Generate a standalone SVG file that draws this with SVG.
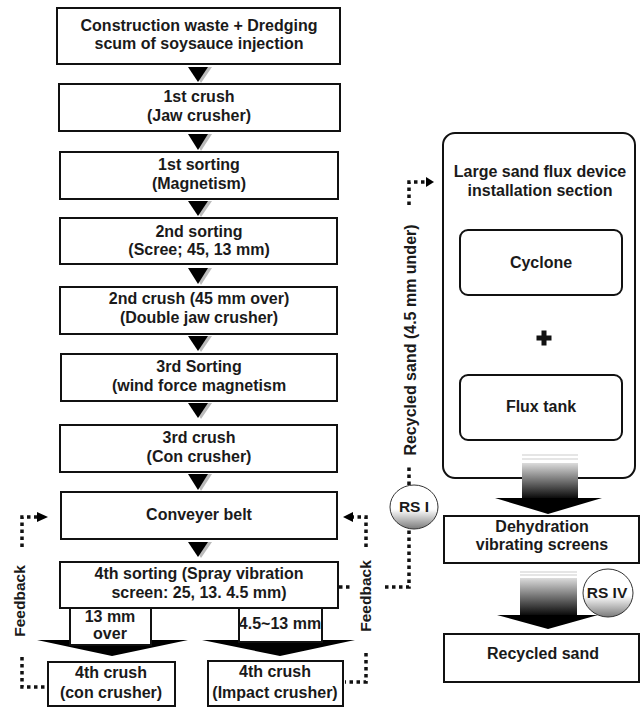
<svg xmlns="http://www.w3.org/2000/svg" width="640" height="708" viewBox="0 0 640 708">
<style>
.box{fill:#fff;stroke:#111;stroke-width:2}
.rbox{fill:#fff;stroke:#111;stroke-width:2}
.t{font-family:"Liberation Sans",Arial,sans-serif;font-weight:bold;font-size:16px;fill:#1a1a1a;text-anchor:middle}
.rs{font-family:"Liberation Sans",Arial,sans-serif;font-weight:bold;font-size:15.5px;fill:#1a1a1a;text-anchor:middle}
.dot{fill:none;stroke:#111;stroke-width:3.5;stroke-dasharray:3.5 3.5}
.tri{fill:#000}
.sh{fill:#bbb}
.faint{stroke:#ccc;stroke-width:1.2}
</style>
<defs>
<linearGradient id="grad" x1="0" y1="0" x2="0" y2="1">
<stop offset="0" stop-color="#dcdcdc"/>
<stop offset="0.3" stop-color="#9a9a9a"/>
<stop offset="1" stop-color="#000"/>
</linearGradient>
<linearGradient id="gloss" x1="0" y1="0" x2="0" y2="1">
<stop offset="0" stop-color="#fff"/>
<stop offset="0.55" stop-color="#fff"/>
<stop offset="1" stop-color="#7a7a7a"/>
</linearGradient>
</defs>

<g id="n1"><rect class="box" x="57" y="8" width="283" height="56"/>
<text class="t" x="199" y="31">Construction waste + Dredging</text>
<text class="t" x="199" y="49">scum of soysauce injection</text></g>
<g id="n2"><rect class="box" x="59" y="84" width="281" height="47"/>
<text class="t" x="199" y="102">1st crush</text>
<text class="t" x="199" y="121">(Jaw crusher)</text></g>
<g id="n3"><rect class="box" x="60" y="152" width="278" height="47"/>
<text class="t" x="199" y="170">1st sorting</text>
<text class="t" x="199" y="189">(Magnetism)</text></g>
<g id="n4"><rect class="box" x="60" y="218" width="277" height="46"/>
<text class="t" x="199" y="237">2nd sorting</text>
<text class="t" x="199" y="255">(Scree; 45, 13 mm)</text></g>
<g id="n5"><rect class="box" x="60" y="287" width="277" height="47"/>
<text class="t" x="199" y="304">2nd crush (45 mm over)</text>
<text class="t" x="199" y="323">(Double jaw crusher)</text></g>
<g id="n6"><rect class="box" x="61" y="354" width="276" height="47"/>
<text class="t" x="199" y="372">3rd Sorting</text>
<text class="t" x="199" y="391">(wind force magnetism</text></g>
<g id="n7"><rect class="box" x="60" y="425" width="277" height="47"/>
<text class="t" x="199" y="443">3rd crush</text>
<text class="t" x="199" y="462">(Con crusher)</text></g>
<g id="n8"><rect class="box" x="61" y="492" width="276" height="47"/>
<text class="t" x="199" y="520">Conveyer belt</text></g>
<g id="n9"><rect class="box" x="60" y="562" width="278" height="46"/>
<text class="t" x="199" y="579">4th sorting (Spray vibration</text>
<text class="t" x="199" y="598">screen: 25, 13. 4.5 mm)</text></g>
<g id="n10"><rect class="box" x="48" y="662" width="127" height="44"/>
<text class="t" x="111" y="678">4th crush</text>
<text class="t" x="111" y="698">(con crusher)</text></g>
<g id="n11"><rect class="box" x="208" y="661" width="135" height="45"/>
<text class="t" x="275" y="677">4th crush</text>
<text class="t" x="275" y="698">(Impact crusher)</text></g>

<g id="n12"><rect class="rbox" x="443" y="133" width="192" height="345" rx="12"/>
<text class="t" x="540" y="177">Large sand flux device</text>
<text class="t" x="540" y="196">installation section</text></g>
<g id="n13"><rect class="rbox" x="460" y="230" width="162" height="65" rx="8"/>
<text class="t" x="541" y="268">Cyclone</text></g>
<g id="plus"><rect x="536.5" y="335.5" width="15" height="5" fill="#111"/><rect x="541.5" y="330.5" width="5" height="15" fill="#111"/></g>
<g id="n14"><rect class="rbox" x="460" y="375" width="162" height="65" rx="8"/>
<text class="t" x="541" y="412">Flux tank</text></g>
<g id="n15"><rect class="box" x="444" y="516" width="195" height="47"/>
<text class="t" x="542" y="532">Dehydration</text>
<text class="t" x="542" y="550">vibrating screens</text></g>
<g id="n16"><rect class="box" x="444" y="634" width="195" height="48"/>
<text class="t" x="543" y="659">Recycled sand</text></g>

<g id="connectors">
<g>
<polygon class="sh" points="191,67 212,67 201,83"/><polygon class="tri" points="188,67 208,67 198,82"/>
<polygon class="sh" points="191,134 212,134 201,151"/><polygon class="tri" points="188,134 208,134 198,150"/>
<polygon class="sh" points="191,201 212,201 201,217"/><polygon class="tri" points="188,201 208,201 198,216"/>
<polygon class="sh" points="191,268 212,268 201,285"/><polygon class="tri" points="188,268 208,268 198,284"/>
<polygon class="sh" points="191,336 212,336 201,352"/><polygon class="tri" points="188,336 208,336 198,351"/>
<polygon class="sh" points="191,403 212,403 201,419"/><polygon class="tri" points="188,403 208,403 198,418"/>
<polygon class="sh" points="191,474 212,474 201,491"/><polygon class="tri" points="188,474 208,474 198,490"/>
<polygon class="sh" points="191,542 212,542 201,558"/><polygon class="tri" points="188,542 208,542 198,557"/>
</g>
<polygon class="tri" points="37,640 188,640 112,656"/>
<rect class="box" x="70" y="608" width="81" height="37"/>
<polygon class="tri" points="202,640 355,640 280,656"/>
<rect class="box" x="239" y="608" width="83" height="34"/>
<text class="t" x="110" y="622">13 mm</text>
<text class="t" x="110" y="639">over</text>
<text class="t" x="280" y="629">4.5~13 mm</text>

<path class="dot" d="M22,547 V517 H37"/>
<polygon class="tri" points="37,512 48,517 37,522"/>
<path class="dot" d="M22,657 V687 H47"/>
<text class="t" transform="translate(25,601) rotate(-90)" style="font-size:15.5px">Feedback</text>

<path class="dot" d="M366,547 V517 H353"/>
<polygon class="tri" points="353,512 343,517 353,522"/>
<path class="dot" d="M366,653 V682 H345"/>
<text class="t" transform="translate(371,596) rotate(-90)" style="font-size:15.5px">Feedback</text>

<path class="dot" d="M339,587 H350"/>
<path class="dot" d="M385,587 H409 V530"/>
<path class="dot" d="M409,485 V466"/>
<path class="dot" d="M409,205 V182 H426"/>
<polygon class="tri" points="426,177 434,182 426,187"/>
<text class="t" transform="translate(416,340) rotate(-90)">Recycled sand (4.5 mm under)</text>

<line class="faint" x1="522" y1="455" x2="578" y2="455"/>
<line class="faint" x1="522" y1="459" x2="578" y2="459"/>
<rect x="522" y="463" width="56" height="37" fill="url(#grad)"/>
<polygon class="tri" points="495,498 602,498 548,514"/>
<line class="faint" x1="520" y1="572" x2="577" y2="572"/>
<line class="faint" x1="520" y1="575" x2="577" y2="575"/>
<rect x="520" y="578" width="57" height="39" fill="url(#grad)"/>
<polygon class="tri" points="497,615 598,615 548,629"/>
</g>

<g id="rs1"><ellipse cx="414" cy="507" rx="24" ry="22" fill="url(#gloss)" stroke="#333" stroke-width="1"/>
<text class="rs" x="414" y="512">RS I</text></g>
<g id="rs4"><ellipse cx="608" cy="593" rx="25" ry="24" fill="url(#gloss)" stroke="#333" stroke-width="1"/>
<text class="rs" x="607" y="598">RS IV</text></g>
</svg>
